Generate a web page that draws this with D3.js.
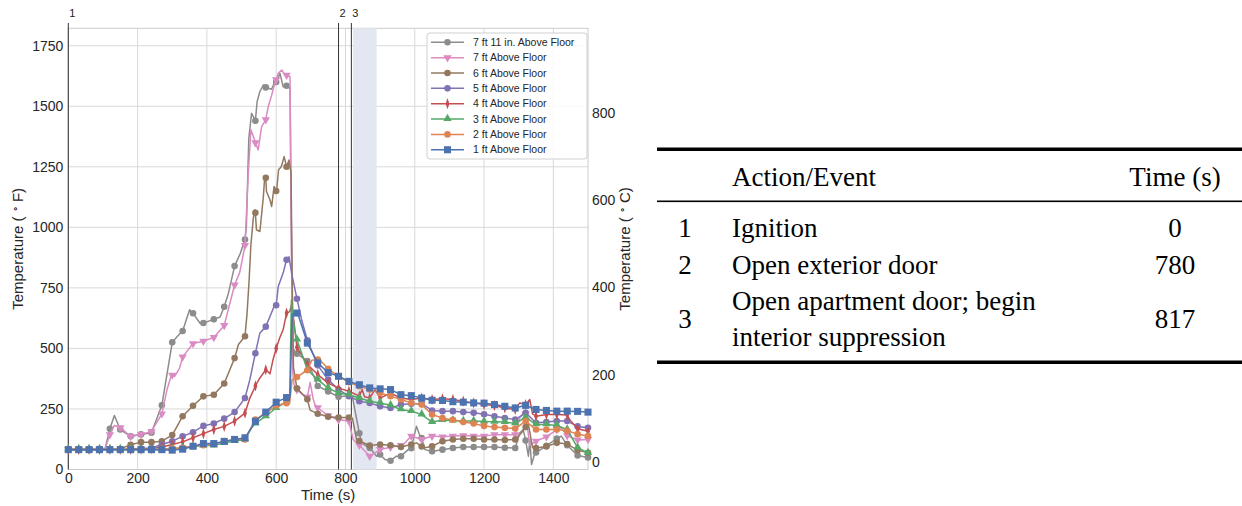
<!DOCTYPE html>
<html>
<head>
<meta charset="utf-8">
<script src="https://cdn.jsdelivr.net/npm/d3@7"></script>
<style>
body {margin: 0; background: #fff;}
svg {display: block;}
</style>
</head>
<body>
<svg id="chart"></svg>
<script>
// marker times (s), one marker every 30 s
const times = [0, 30, 60, 90, 120, 150, 180, 210, 240, 270, 300, 330, 360, 390, 420, 450, 480, 510, 540, 570,
  600, 630, 660, 690, 720, 750, 780, 810, 840, 870, 900, 930, 960, 990, 1020, 1050, 1080, 1110, 1140, 1170,
  1200, 1230, 1260, 1290, 1320, 1350, 1380, 1410, 1440, 1470, 1500];

const seriesNames = ['7 ft 11 in. Above Floor', '7 ft Above Floor', '6 ft Above Floor', '5 ft Above Floor',
  '4 ft Above Floor', '3 ft Above Floor', '2 ft Above Floor', '1 ft Above Floor'];
const seriesColors = ['#8c8c8c', '#da8bc3', '#937860', '#8172b3', '#c44e52', '#55a868', '#dd8452', '#4c72b0'];
const seriesMarkers = ['circle', 'triDown', 'circle', 'circle', 'thinDiamond', 'triUp', 'circle', 'square'];

// temperatures (F) at the marker times
const temp7ft11 = [83, 83, 83, 83, 168, 165, 137, 145, 152, 265, 525, 572, 645, 605, 620, 672, 840, 950, 1440, 1578,
  1600, 1585, 478, 448, 345, 322, 300, 305, 150, 89, 62, 36, 55, 88, 130, 75, 82, 89, 93, 93,
  93, 93, 90, 89, 120, 70, 98, 128, 100, 58, 50];
const temp7ft = [83, 83, 83, 83, 144, 173, 137, 145, 157, 230, 390, 465, 520, 530, 545, 595, 762, 925, 1350, 1445,
  1610, 1628, 330, 300, 255, 222, 205, 200, 100, 55, 83, 92, 100, 138, 124, 138, 135, 138, 140, 138,
  138, 144, 144, 144, 230, 117, 135, 165, 140, 122, 124];
const temp6ft = [83, 83, 83, 83, 83, 85, 102, 113, 113, 117, 142, 220, 263, 302, 309, 355, 460, 550, 1060, 1205,
  1150, 1250, 335, 290, 230, 218, 215, 215, 118, 99, 103, 100, 93, 103, 95, 96, 117, 124, 127, 127,
  124, 124, 122, 124, 175, 89, 95, 110, 105, 80, 69];
const temp5ft = [83, 83, 83, 83, 83, 84, 85, 87, 89, 103, 117, 137, 154, 180, 190, 210, 237, 295, 480, 590,
  678, 866, 705, 534, 430, 371, 330, 303, 282, 275, 261, 254, 268, 272, 272, 244, 241, 241, 237, 234,
  228, 220, 213, 206, 234, 193, 196, 200, 200, 178, 172];
const temp4ft = [83, 83, 83, 83, 83, 83, 83, 84, 86, 93, 103, 114, 131, 148, 165, 178, 200, 233, 345, 412,
  500, 646, 505, 433, 392, 357, 336, 323, 303, 295, 295, 316, 295, 289, 295, 289, 292, 289, 282, 275,
  268, 264, 254, 248, 268, 220, 227, 227, 225, 168, 158];
const temp3ft = [83, 83, 83, 83, 83, 83, 83, 83, 83, 83, 87, 89, 95, 99, 99, 110, 117, 124, 190, 220,
  254, 280, 536, 412, 371, 336, 316, 309, 295, 282, 275, 265, 248, 241, 227, 196, 204, 202, 200, 200,
  198, 197, 196, 191, 215, 186, 186, 182, 165, 90, 68];
const temp2ft = [83, 83, 83, 83, 83, 83, 83, 83, 83, 83, 87, 90, 97, 100, 104, 117, 124, 124, 206, 233,
  264, 274, 382, 410, 454, 416, 385, 360, 344, 330, 316, 303, 289, 275, 268, 227, 212, 205, 196, 190,
  180, 175, 172, 169, 200, 165, 165, 165, 160, 146, 138];
const temp1ft = [82, 82, 82, 82, 82, 82, 82, 82, 82, 82, 80, 84, 96, 107, 107, 116, 124, 131, 199, 237,
  278, 297, 646, 522, 440, 400, 385, 364, 350, 337, 333, 330, 309, 305, 295, 286, 285, 280, 278, 275,
  274, 268, 261, 254, 265, 248, 244, 241, 241, 240, 237];

// extra readings between markers [time, F]
const detail7ft11 = [[106, 85], [133, 223], [315, 550], [350, 660], [381, 603], [438, 630], [462, 727], [496, 891],
  [514, 1003], [521, 1368], [529, 1471], [545, 1519], [553, 1561], [563, 1588], [587, 1570], [596, 1602],
  [611, 1636], [620, 1581], [640, 1574], [643, 1100], [648, 500], [820, 300], [827, 247], [846, 110],
  [861, 96], [890, 55], [914, 41], [947, 55], [981, 82], [1005, 179], [1015, 138], [1029, 82],
  [1303, 151], [1313, 165], [1328, 55], [1332, 124], [1337, 21], [1347, 69], [1423, 138], [1443, 96]];
const detail7ft = [[106, 85], [133, 182], [285, 330], [298, 392], [307, 385], [321, 418], [495, 815], [519, 1210],
  [527, 1403], [534, 1375], [548, 1320], [558, 1416], [577, 1498], [587, 1546], [596, 1595], [606, 1636],
  [616, 1650], [625, 1630], [640, 1622], [644, 900], [648, 400], [652, 345], [680, 305], [698, 360],
  [707, 290], [712, 268], [822, 124], [856, 76], [885, 69], [967, 103], [1303, 213], [1318, 241],
  [1332, 100], [1423, 172]];
const detail6ft = [[491, 516], [516, 646], [522, 784], [527, 928], [534, 1038], [539, 1073], [543, 990], [553, 983],
  [563, 1127], [567, 1210], [572, 1148], [582, 1114], [587, 1086], [594, 1169], [601, 1148], [607, 1238],
  [615, 1251], [623, 1292], [637, 1278], [643, 1223], [646, 800], [650, 420], [698, 245], [820, 212],
  [832, 124], [1005, 110], [1025, 89], [1308, 151], [1328, 186], [1340, 90]];
const detail5ft = [[524, 371], [553, 564], [596, 680], [606, 756], [620, 811], [637, 878], [645, 808], [674, 615]];
const detail4ft = [[524, 295], [553, 378], [575, 406], [582, 395], [591, 454], [610, 543], [620, 577], [639, 652],
  [645, 685], [848, 330], [855, 300], [885, 330], [1303, 275], [1332, 289], [1340, 230], [1447, 206]];
const detail3ft = [[529, 172], [639, 303], [644, 700], [649, 620], [654, 570]];
const detail2ft = [[639, 278], [646, 370], [703, 451], [722, 458]];
const detail1ft = [[640, 300], [646, 640], [664, 636]];

// events
const eventLabels = ['1', '2', '3'];
const eventTimes = [0, 780, 817];
const shadeRange = [822, 890];

// table
const tableNums = ['1', '2', '3'];
const tableActions = [['Ignition'], ['Open exterior door'], ['Open apartment door; begin', 'interior suppression']];
const tableTimes = ['0', '780', '817'];

const xTicks = [0, 200, 400, 600, 800, 1000, 1200, 1400];
const yTicks = [0, 250, 500, 750, 1000, 1250, 1500, 1750];
const cTicks = [0, 200, 400, 600, 800];

const values = [temp7ft11, temp7ft, temp6ft, temp5ft, temp4ft, temp3ft, temp2ft, temp1ft];
const details = [detail7ft11, detail7ft, detail6ft, detail5ft, detail4ft, detail3ft, detail2ft, detail1ft];

const svg = d3.select('#chart')
  .attr('width', 1242)
  .attr('height', 506)
  .style('font-family', '"Liberation Sans", Arial, sans-serif');

const plot = {left: 68.3, right: 588, top: 28.3, bottom: 469.5};
const yMax = 1822;

const x = d3.scaleLinear().domain([0, 1500]).range([plot.left, plot.right]);
const y = d3.scaleLinear().domain([0, yMax]).range([plot.bottom, plot.top]);
const yC = d3.scaleLinear().domain([-32 / 1.8, (yMax - 32) / 1.8]).range([plot.bottom, plot.top]);

// grid
const grid = svg.append('g');
grid.selectAll('.gx').data(xTicks).enter().append('line')
  .attr('x1', d => x(d)).attr('x2', d => x(d))
  .attr('y1', plot.top).attr('y2', plot.bottom)
  .attr('stroke', '#d9d9d9').attr('stroke-width', 1);
grid.selectAll('.gy').data(yTicks).enter().append('line')
  .attr('x1', plot.left).attr('x2', plot.right)
  .attr('y1', d => y(d)).attr('y2', d => y(d))
  .attr('stroke', '#d9d9d9').attr('stroke-width', 1);

// frame
svg.append('rect')
  .attr('x', plot.left).attr('y', plot.top)
  .attr('width', plot.right - plot.left).attr('height', plot.bottom - plot.top)
  .attr('fill', 'none').attr('stroke', '#cccccc').attr('stroke-width', 1);

// shaded suppression window
svg.append('rect')
  .attr('x', x(shadeRange[0])).attr('y', plot.top)
  .attr('width', x(shadeRange[1]) - x(shadeRange[0]))
  .attr('height', plot.bottom - plot.top)
  .attr('fill', '#e2e7f2');

// event lines
eventTimes.forEach((t, i) => {
  svg.append('line')
    .attr('x1', x(t)).attr('x2', x(t))
    .attr('y1', 23).attr('y2', plot.bottom)
    .attr('stroke', '#333').attr('stroke-width', 1);
  svg.append('text')
    .attr('x', x(t) + 1).attr('y', 17)
    .style('font-size', '11px')
    .style('fill', '#222')
    .text(eventLabels[i]);
});

// axes
const axLeft = svg.append('g')
  .attr('transform', `translate(${plot.left}, 0)`)
  .call(d3.axisLeft(y).tickValues(yTicks).tickFormat(d3.format('d')).tickSize(0).tickPadding(5));
const axBottom = svg.append('g')
  .attr('transform', `translate(0, ${plot.bottom})`)
  .call(d3.axisBottom(x).tickValues(xTicks).tickFormat(d3.format('d')).tickSize(0).tickPadding(4));
const axRight = svg.append('g')
  .attr('transform', `translate(${plot.right}, 0)`)
  .call(d3.axisRight(yC).tickValues(cTicks).tickFormat(d3.format('d')).tickSize(0).tickPadding(4));
[axLeft, axBottom, axRight].forEach(a => {
  a.select('.domain').remove();
  a.selectAll('text')
    .style('font-family', '"Liberation Sans", Arial, sans-serif')
    .style('font-size', '14px')
    .style('fill', '#262626');
});

svg.append('text')
  .attr('x', (plot.left + plot.right) / 2).attr('y', 500)
  .attr('text-anchor', 'middle')
  .style('font-size', '15px')
  .style('fill', '#262626')
  .text('Time (s)');

function degLabel(xPos, unit) {
  const t = svg.append('text')
    .attr('transform', `translate(${xPos}, ${(plot.top + plot.bottom) / 2}) rotate(-90)`)
    .attr('text-anchor', 'middle')
    .style('font-size', '15px')
    .style('fill', '#262626');
  t.append('tspan').text('Temperature ( ');
  t.append('tspan').attr('dy', -5).style('font-size', '10px').text('\u2218');
  t.append('tspan').attr('dy', 5).text(' ' + unit + ')');
}
degLabel(23, 'F');
degLabel(630, 'C');

// marker shapes
function markerPath(kind) {
  if (kind === 'circle') return d3.symbol(d3.symbolCircle, 34)();
  if (kind === 'square') return d3.symbol(d3.symbolSquare, 50)();
  if (kind === 'triUp') return d3.symbol(d3.symbolTriangle, 30)();
  if (kind === 'triDown') return d3.symbol(d3.symbolTriangle, 30)();
  return d3.symbol(d3.symbolDiamond, 30)();
}
function markerTransform(kind, px, py) {
  if (kind === 'triDown') return `translate(${px},${py}) rotate(180)`;
  if (kind === 'thinDiamond') return `translate(${px},${py}) scale(0.65,1.1)`;
  if (kind === 'triUp') return `translate(${px},${py - 0.5})`;
  return `translate(${px},${py})`;
}

const line = d3.line().x(d => x(d[0])).y(d => y(d[1]));

const plotArea = svg.append('g');
seriesNames.forEach((name, i) => {
  const marks = times.map((t, j) => [t, values[i][j]]);
  const pts = marks.concat(details[i]).sort((a, b) => a[0] - b[0]);
  const g = plotArea.append('g');
  g.append('path')
    .datum(pts)
    .attr('d', line)
    .attr('fill', 'none')
    .attr('stroke', seriesColors[i])
    .attr('stroke-width', 1.5)
    .attr('stroke-linejoin', 'round');
  g.selectAll('path.mk')
    .data(marks)
    .enter()
    .append('path')
    .attr('class', 'mk')
    .attr('d', markerPath(seriesMarkers[i]))
    .attr('transform', d => markerTransform(seriesMarkers[i], x(d[0]), y(d[1])))
    .attr('fill', seriesColors[i]);
});

// legend
const lg = svg.append('g');
lg.append('rect')
  .attr('x', 427).attr('y', 33)
  .attr('width', 160).attr('height', 126)
  .attr('rx', 3)
  .attr('fill', 'rgba(255,255,255,0.85)')
  .attr('stroke', '#d0d0d0');
seriesNames.forEach((name, i) => {
  const ly = 42.3 + i * 15.35;
  lg.append('line')
    .attr('x1', 431).attr('x2', 464)
    .attr('y1', ly).attr('y2', ly)
    .attr('stroke', seriesColors[i]).attr('stroke-width', 1.5);
  lg.append('path')
    .attr('d', markerPath(seriesMarkers[i]))
    .attr('transform', markerTransform(seriesMarkers[i], 447.5, ly))
    .attr('fill', seriesColors[i]);
  lg.append('text')
    .attr('x', 473).attr('y', ly + 3.7)
    .style('font-size', '10.5px')
    .style('fill', '#262626')
    .text(name);
});

// event table
const tb = svg.append('g').style('font-family', '"Liberation Serif", "Times New Roman", serif');
const ruleL = 657, ruleR = 1242;
tb.append('rect').attr('x', ruleL).attr('y', 147.5).attr('width', ruleR - ruleL).attr('height', 3.5).attr('fill', '#000');
tb.append('rect').attr('x', ruleL).attr('y', 200.5).attr('width', ruleR - ruleL).attr('height', 1.6).attr('fill', '#000');
tb.append('rect').attr('x', ruleL).attr('y', 360.5).attr('width', ruleR - ruleL).attr('height', 3.5).attr('fill', '#000');

const tsize = '27px';
tb.append('text').attr('x', 732).attr('y', 186).style('font-size', tsize).text('Action/Event');
tb.append('text').attr('x', 1175).attr('y', 186).attr('text-anchor', 'middle').style('font-size', tsize).text('Time (s)');

const rowCenters = [228, 265, 319];
tableNums.forEach((n, i) => {
  const c = rowCenters[i];
  tb.append('text').attr('x', 685).attr('y', c + 9).attr('text-anchor', 'middle').style('font-size', tsize).text(n);
  tb.append('text').attr('x', 1175).attr('y', c + 9).attr('text-anchor', 'middle').style('font-size', tsize).text(tableTimes[i]);
  const lines = tableActions[i];
  lines.forEach((s, k) => {
    const yy = c + 9 + (k - (lines.length - 1) / 2) * 36;
    tb.append('text').attr('x', 732).attr('y', yy).style('font-size', tsize).text(s);
  });
});
</script>
</body>
</html>
